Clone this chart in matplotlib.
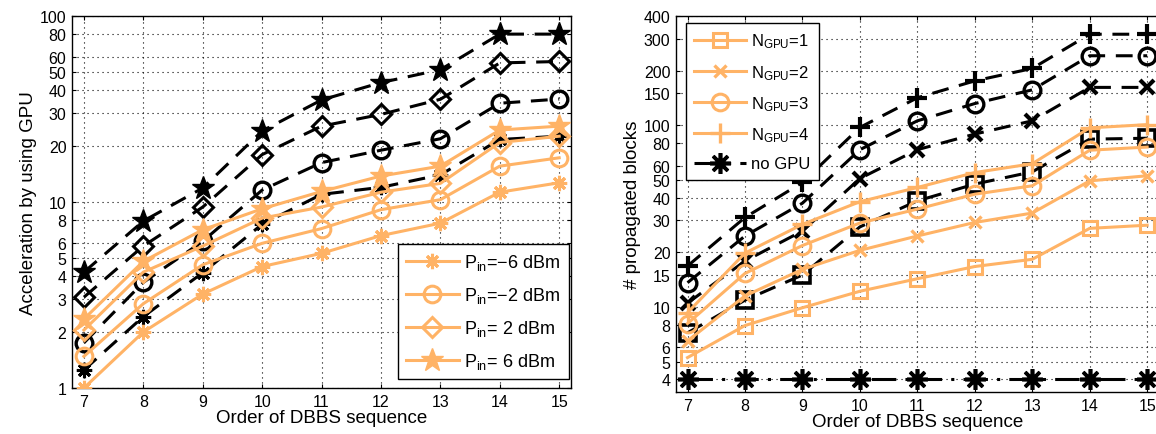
import matplotlib
matplotlib.use("Agg")
import matplotlib.pyplot as plt
from matplotlib.ticker import FixedLocator, FixedFormatter, NullLocator

plt.rcParams['font.family'] = ['Liberation Sans', 'DejaVu Sans']
plt.rcParams['mathtext.fontset'] = 'custom'
plt.rcParams['mathtext.rm'] = 'Liberation Sans'
plt.rcParams['mathtext.it'] = 'Liberation Sans:italic'

ORANGE = '#FFB366'

# --- data: left panel (acceleration) ---
order = [7, 8, 9, 10, 11, 12, 13, 14, 15]
acc_labels = ['P$_{\\rm in}$=\u22126 dBm', 'P$_{\\rm in}$=\u22122 dBm',
              'P$_{\\rm in}$= 2 dBm', 'P$_{\\rm in}$= 6 dBm']
acc_m6 = [1.0, 2.0, 3.2, 4.5, 5.3, 6.6, 7.7, 11.3, 12.7]
acc_m2 = [1.48, 2.84, 4.6, 6.0, 7.2, 9.1, 10.3, 15.6, 17.3]
acc_p2 = [2.05, 4.2, 5.8, 8.2, 9.4, 11.3, 12.6, 20.9, 22.6]
acc_p6 = [2.35, 4.8, 7.1, 9.2, 11.4, 13.8, 15.6, 24.4, 25.6]
acc_m6_b = [1.25, 2.42, 4.17, 7.6, 11.0, 12.0, 14.0, 21.7, 22.6]
acc_m2_b = [1.75, 3.7, 6.15, 11.6, 16.3, 19.0, 21.9, 34.0, 35.8]
acc_p2_b = [3.08, 5.8, 9.4, 18.0, 25.6, 29.6, 35.7, 56.0, 57.0]
acc_p6_b = [4.2, 7.9, 11.9, 24.1, 35.4, 43.9, 51.5, 80.0, 80.0]
acc_yticks = [1, 2, 3, 4, 5, 6, 8, 10, 20, 30, 40, 50, 60, 80, 100]

# --- data: right panel (propagated blocks) ---
blk_labels = ['N$_{\\rm GPU}$=1', 'N$_{\\rm GPU}$=2', 'N$_{\\rm GPU}$=3',
              'N$_{\\rm GPU}$=4', 'no GPU']
blk_n1 = [5.26, 7.9, 9.9, 12.2, 14.3, 16.7, 18.3, 27.1, 28.2]
blk_n2 = [6.5, 11.5, 16.1, 20.5, 24.6, 29.2, 32.9, 49.5, 52.8]
blk_n3 = [8.1, 15.3, 21.8, 29.0, 34.6, 41.8, 46.5, 73.0, 76.0]
blk_n4 = [9.3, 19.8, 28.5, 38.0, 45.5, 55.0, 61.5, 97.0, 101.0]
blk_n1_b = [7.2, 10.9, 15.0, 27.6, 38.4, 47.5, 55.5, 84.0, 85.0]
blk_n2_b = [10.5, 17.9, 26.2, 51.0, 73.5, 89.6, 106.0, 162.0, 162.0]
blk_n3_b = [13.6, 24.6, 37.3, 73.5, 106.0, 132.0, 157.0, 242.0, 242.0]
blk_n4_b = [16.8, 31.1, 48.5, 97.5, 142.0, 176.0, 206.0, 318.0, 318.0]
blk_nogpu = [4, 4, 4, 4, 4, 4, 4, 4, 4]
blk_yticks = [4, 5, 6, 8, 10, 15, 20, 30, 40, 50, 60, 80, 100, 150, 200, 300, 400]

ASTER = (8, 2, 0)
LW = 2.2
DASH = (0, (5.5, 3.5))

fig = plt.figure(figsize=(11.56, 4.35), dpi=100)
ax1 = fig.add_axes([0.0623, 0.1057, 0.4317, 0.855])
ax2 = fig.add_axes([0.5848, 0.0966, 0.4175, 0.864])


def style_axis(ax, yticks, ylim, ylabel):
    ax.set_yscale('log')
    ax.set_xlim(6.8, 15.2)
    ax.set_ylim(*ylim)
    ax.xaxis.set_major_locator(FixedLocator(order))
    ax.yaxis.set_major_locator(FixedLocator(yticks))
    ax.yaxis.set_major_formatter(FixedFormatter([str(t) for t in yticks]))
    ax.yaxis.set_minor_locator(NullLocator())
    ax.tick_params(direction='in', which='both', top=True, right=True,
                   labelsize=11.5, length=3, width=0.8, pad=4)
    ax.grid(True, which='major', color='black', linestyle=(0, (1, 3.5)),
            linewidth=0.8)
    ax.set_xlabel('Order of DBBS sequence', fontsize=13.5, labelpad=0)
    ax.set_ylabel(ylabel, fontsize=13.5, labelpad=2)
    for s in ax.spines.values():
        s.set_linewidth(1.0)


# left panel
ax = ax1
ax.plot(order, acc_m6_b, color='black', ls=DASH, lw=LW, marker=ASTER, ms=11, mew=2.2, zorder=3)
ax.plot(order, acc_m2_b, color='black', ls=DASH, lw=LW, marker='o', ms=12, mew=2.4, mfc='none', zorder=3)
ax.plot(order, acc_p2_b, color='black', ls=DASH, lw=LW, marker='D', ms=10, mew=2.2, mfc='none', zorder=3)
ax.plot(order, acc_p6_b, color='black', ls=DASH, lw=LW, marker='*', ms=17, zorder=3)
ax.plot(order, acc_m6, color=ORANGE, lw=LW, marker=ASTER, ms=11, mew=2.2, label=acc_labels[0], zorder=4)
ax.plot(order, acc_m2, color=ORANGE, lw=LW, marker='o', ms=12, mew=2.2, mfc='none', label=acc_labels[1], zorder=4)
ax.plot(order, acc_p2, color=ORANGE, lw=LW, marker='D', ms=10, mew=2.2, mfc='none', label=acc_labels[2], zorder=4)
ax.plot(order, acc_p6, color=ORANGE, lw=LW, marker='*', ms=17, label=acc_labels[3], zorder=4)
style_axis(ax, acc_yticks, (1, 100), 'Acceleration by using GPU')
leg = ax.legend(loc='lower right', bbox_to_anchor=(0.995, 0.023), fontsize=13,
                handlelength=2.9, borderpad=0.45, labelspacing=0.72,
                handletextpad=0.3, fancybox=False, framealpha=1,
                edgecolor='black', borderaxespad=0.0)
leg.get_frame().set_linewidth(1.0)

# right panel
ax = ax2
ax.plot(order, blk_n1_b, color='black', ls=DASH, lw=LW, marker='s', ms=11, mew=2.6, mfc='none', zorder=3)
ax.plot(order, blk_n2_b, color='black', ls=DASH, lw=LW, marker='x', ms=10, mew=3.0, zorder=3)
ax.plot(order, blk_n3_b, color='black', ls=DASH, lw=LW, marker='o', ms=12, mew=2.4, mfc='none', zorder=3)
ax.plot(order, blk_n4_b, color='black', ls=DASH, lw=LW, marker='+', ms=14, mew=3.0, zorder=3)
ax.plot(order, blk_n1, color=ORANGE, lw=LW, marker='s', ms=10, mew=2.2, mfc='none', label=blk_labels[0], zorder=4)
ax.plot(order, blk_n2, color=ORANGE, lw=LW, marker='x', ms=9, mew=2.4, label=blk_labels[1], zorder=4)
ax.plot(order, blk_n3, color=ORANGE, lw=LW, marker='o', ms=12, mew=2.2, mfc='none', label=blk_labels[2], zorder=4)
ax.plot(order, blk_n4, color=ORANGE, lw=LW, marker='+', ms=14, mew=2.4, label=blk_labels[3], zorder=4)
ax.plot(order, blk_nogpu, color='black', ls=(0, (8, 3, 1, 3)), lw=LW, marker=ASTER, ms=15,
        mew=2.6, label=blk_labels[4], zorder=4)
style_axis(ax, blk_yticks, (3.4, 400), '# propagated blocks')
leg = ax.legend(loc='upper left', bbox_to_anchor=(0.021, 0.981), fontsize=12,
                handlelength=3.1, borderpad=0.5, labelspacing=0.75,
                handletextpad=0.3, fancybox=False, framealpha=1,
                edgecolor='black', borderaxespad=0.0)
leg.get_frame().set_linewidth(1.0)

fig.savefig('out.png', dpi=100)
